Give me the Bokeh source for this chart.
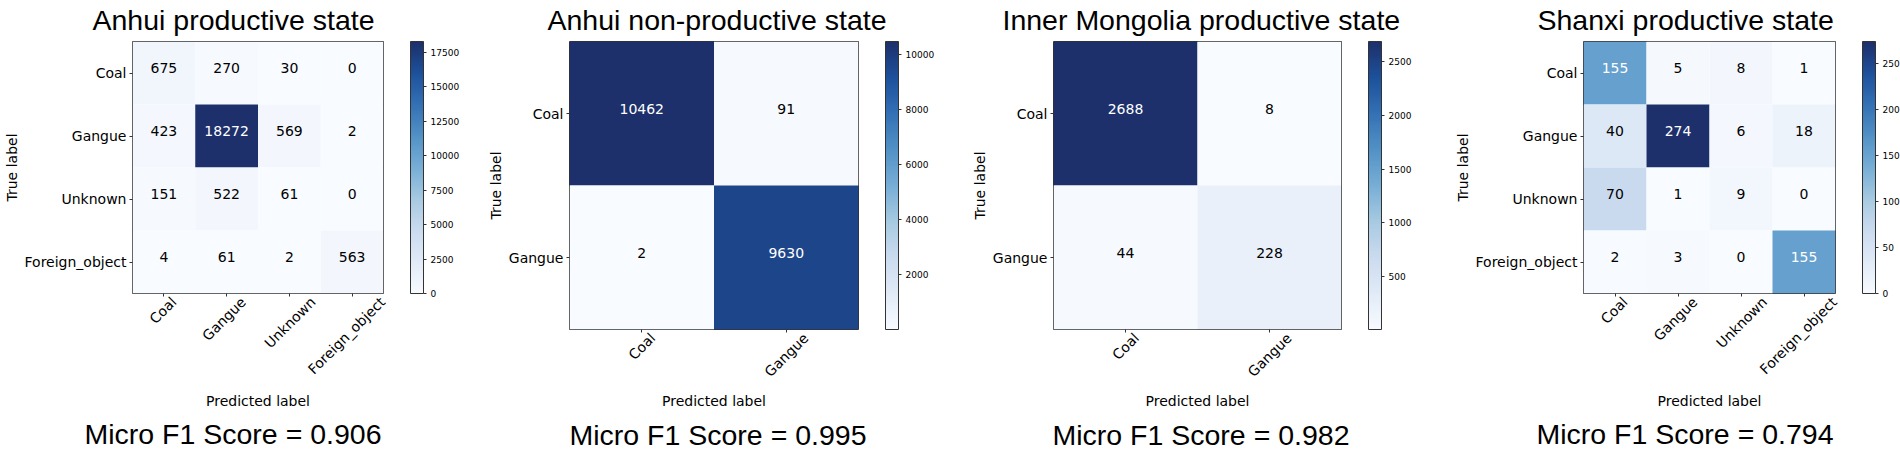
import math
from bokeh.plotting import figure
from bokeh.models import (ColumnDataSource, LinearColorMapper, ColorBar, FixedTicker, FactorRange,
                          Title, Range1d, LinearAxis)
from bokeh.layouts import row
from bokeh.palettes import Blues256
from bokeh.embed import file_html
from bokeh.resources import INLINE
from bokeh.core.properties import value

# ---------------- data ----------------
titles = ["Anhui productive state", "Anhui non-productive state",
          "Inner Mongolia productive state", "Shanxi productive state"]
f1_scores = [0.906, 0.995, 0.982, 0.794]

classes4 = ["Coal", "Gangue", "Unknown", "Foreign_object"]
classes2 = ["Coal", "Gangue"]

anhui_productive = [[675, 270, 30, 0],
                    [423, 18272, 569, 2],
                    [151, 522, 61, 0],
                    [4, 61, 2, 563]]
anhui_non_productive = [[10462, 91],
                        [2, 9630]]
inner_mongolia_productive = [[2688, 8],
                             [44, 228]]
shanxi_productive = [[155, 5, 8, 1],
                     [40, 274, 6, 18],
                     [70, 1, 9, 0],
                     [2, 3, 0, 155]]

cbar_ticks_anhui_productive = [0, 2500, 5000, 7500, 10000, 12500, 15000, 17500]
cbar_ticks_anhui_non_productive = [2000, 4000, 6000, 8000, 10000]
cbar_ticks_inner_mongolia = [500, 1000, 1500, 2000, 2500]
cbar_ticks_shanxi = [0, 50, 100, 150, 200, 250]

panels = [
    (titles[0], classes4, anhui_productive, cbar_ticks_anhui_productive, f1_scores[0]),
    (titles[1], classes2, anhui_non_productive, cbar_ticks_anhui_non_productive, f1_scores[1]),
    (titles[2], classes2, inner_mongolia_productive, cbar_ticks_inner_mongolia, f1_scores[2]),
    (titles[3], classes4, shanxi_productive, cbar_ticks_shanxi, f1_scores[3]),
]

# ---------------- layout geometry (pixels) ----------------
# lab_s0 / lab_k: shift of the rotated tick labels so that they sit centred under
# their ticks (matplotlib style) instead of ending at the tick.
geom = [
    dict(left=129, fw=251, fh=252, right=87, t_off=-40, f_off=-48, xl_standoff=7, lab_s0=10, lab_k=6.8),
    dict(left=99, fw=289, fh=288, right=87, t_off=-22, f_off=0, xl_standoff=5, lab_s0=11, lab_k=8.5),
    dict(left=108, fw=288, fh=288, right=79, t_off=-51, f_off=-1, xl_standoff=5, lab_s0=11, lab_k=8.5),
    dict(left=163, fw=252, fh=252, right=60, t_off=-46, f_off=-47, xl_standoff=7, lab_s0=10, lab_k=6.8),
]
TOTAL_H = 451
TOP = 41
TICK_COLOR = "#333333"
BIG_FONT = "28.5px"


def soften(hex_color):
    # slightly lift the red channel of the dark blues (closer to the reference rendering)
    r = int(hex_color[1:3], 16)
    g = int(hex_color[3:5], 16)
    b = int(hex_color[5:7], 16)
    r = int(round(r + 22 * (1 - r / 255.0)))
    return "#%02x%02x%02x" % (r, g, b)


palette = [soften(c) for c in reversed(Blues256)]


def style_text_axis(ax):
    ax.major_label_text_font = "DejaVu Sans"
    ax.major_label_text_font_size = "14px"
    ax.major_label_text_color = "black"
    ax.axis_label_text_font = "DejaVu Sans"
    ax.axis_label_text_font_size = "14px"
    ax.axis_label_text_font_style = "normal"
    ax.axis_label_text_color = "black"
    ax.axis_line_color = None
    ax.minor_tick_line_color = None
    ax.minor_tick_in = 0
    ax.minor_tick_out = 0


figs = []
for (title, classes, matrix, ticks, score), g in zip(panels, geom):
    n = len(classes)
    xs, ys, vals, txt, tcol = [], [], [], [], []
    flat = [v for r in matrix for v in r]
    lo, hi = min(flat), max(flat)
    thresh = (lo + hi) / 2.0
    for i, true_c in enumerate(classes):
        for j, pred_c in enumerate(classes):
            v = matrix[i][j]
            xs.append(j)              # predicted-class index
            ys.append(true_c)
            vals.append(v)
            txt.append(str(v))
            tcol.append("white" if v > thresh else "black")
    src = ColumnDataSource(dict(pred=xs, true=ys, val=vals, txt=txt, tc=tcol))
    mapper = LinearColorMapper(palette=palette, low=lo, high=hi)

    # range used only to place the rotated tick labels (class index -> label)
    u = g["fw"] / n + g["lab_k"]
    lab_start = -(g["fw"] / (2.0 * n) + g["lab_s0"]) / u
    lab_end = lab_start + g["fw"] / u

    ttl = Title(text=title, align="left", offset=g["t_off"], vertical_align="top", standoff=7,
                text_font="Liberation Sans", text_font_size=BIG_FONT, text_font_style="normal",
                text_color="black")
    p = figure(x_range=Range1d(-0.5, n - 0.5), y_range=FactorRange(*reversed(classes)),
               frame_width=g["fw"], frame_height=g["fh"],
               min_border_left=g["left"], min_border_right=g["right"],
               min_border_top=TOP, min_border_bottom=TOTAL_H - TOP - g["fh"],
               title=ttl, output_backend="svg", toolbar_location=None, tools="")
    p.extra_x_ranges = {"labels": Range1d(lab_start, lab_end)}

    p.rect(x="pred", y="true", width=1, height=1, source=src,
           fill_color={"field": "val", "transform": mapper}, line_color=None)
    p.text(x="pred", y="true", text="txt", source=src, text_color="tc",
           text_align="center", text_baseline="middle",
           text_font=value("DejaVu Sans"), text_font_size="14px", y_offset=-5)

    p.grid.grid_line_color = None
    p.outline_line_color = TICK_COLOR
    p.outline_line_width = 1
    p.background_fill_color = "white"
    p.border_fill_color = "white"

    # y axis
    ya = p.yaxis[0]
    style_text_axis(ya)
    ya.major_tick_in = 0
    ya.major_tick_out = 3
    ya.major_tick_line_color = TICK_COLOR
    ya.major_label_standoff = 3
    ya.axis_label = "True label"
    ya.axis_label_standoff = 2

    # x axis: ticks only (labels drawn by the label axis below)
    xa = p.xaxis[0]
    style_text_axis(xa)
    xa.ticker = FixedTicker(ticks=list(range(n)))
    xa.major_tick_in = 0
    xa.major_tick_out = 3
    xa.major_tick_line_color = TICK_COLOR
    xa.major_label_standoff = 0
    xa.major_label_text_font_size = "0px"
    xa.major_label_text_alpha = 0

    lab_axis = LinearAxis(x_range_name="labels", ticker=FixedTicker(ticks=list(range(n))),
                          major_label_overrides={i: c for i, c in enumerate(classes)})
    style_text_axis(lab_axis)
    lab_axis.major_tick_in = 0
    lab_axis.major_tick_out = 0
    lab_axis.major_tick_line_color = None
    lab_axis.major_label_standoff = 3
    lab_axis.major_label_orientation = math.pi / 4
    lab_axis.axis_label = "Predicted label"
    lab_axis.axis_label_standoff = g["xl_standoff"]
    p.add_layout(lab_axis, "below")

    cb = ColorBar(color_mapper=mapper, ticker=FixedTicker(ticks=ticks),
                  width=13, height=g["fh"], margin=0, padding=0, location=(27, 0),
                  major_label_text_font_size="9px", major_label_text_font="DejaVu Sans",
                  major_label_text_color="black",
                  major_tick_in=0, major_tick_out=3, major_tick_line_color=TICK_COLOR,
                  bar_line_color=TICK_COLOR, bar_line_width=1,
                  border_line_color=None, background_fill_alpha=0, label_standoff=4)
    p.add_layout(cb, "right")

    f1 = Title(text="Micro F1 Score = %.3f" % score, align="left", offset=g["f_off"],
               vertical_align="bottom", standoff=9,
               text_font="Liberation Sans", text_font_size=BIG_FONT, text_font_style="normal",
               text_color="black")
    p.add_layout(f1, "below")
    figs.append(p)

layout = row(*figs, spacing=0)
open("out.html", "w").write(file_html(layout, INLINE))
